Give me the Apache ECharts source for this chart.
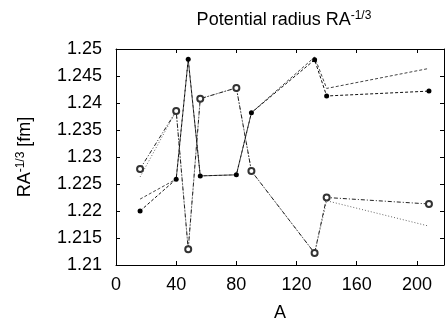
<!DOCTYPE html>
<html>
<head>
<meta charset="utf-8">
<script src="https://cdn.jsdelivr.net/npm/echarts@6/dist/echarts.min.js"></script>
<style>
  html, body { margin: 0; padding: 0; background: #fff; }
  #chart { width: 447px; height: 329px; }
</style>
</head>
<body>
<div id="chart"></div>
<script>
// mass numbers A
const massA = [16, 40, 48, 56, 80, 90, 132, 140, 208]
// filled dots
const filledR = [1.2200, 1.2259, 1.2481, 1.2265, 1.2267, 1.2382, 1.2480, 1.2413, 1.2422]
// open circles
const openR = [1.2278, 1.2385, 1.2129, 1.2408, 1.2428, 1.2274, 1.2122, 1.2225, 1.2213]
// lines without marks
const lineC = [1.2222, 1.2259, 1.2480, 1.2265, 1.2267, 1.2382, 1.2485, 1.2427, 1.2464]
const lineD = [1.2263, 1.2385, 1.2129, 1.2408, 1.2428, 1.2274, 1.2122, 1.2219, 1.2172]

const xTicks = [0, 40, 80, 120, 160, 200]
const yMin = 1.21, yMax = 1.25, yStep = 0.005

const pairs = ys => massA.map((a, i) => [a, ys[i]])

const font = 'Liberation Sans, Arial, sans-serif'

const chart = echarts.init(document.getElementById('chart'), null, { renderer: 'canvas' })

const baseX = {
  type: 'value', min: 0, max: 218, interval: 40,
  axisLine: { show: true, onZero: false, lineStyle: { color: '#000', width: 1 } },
  axisTick: { show: true, inside: true, length: 4, lineStyle: { color: '#000' } },
  splitLine: { show: false },
}
const baseY = {
  type: 'value', min: yMin, max: yMax, interval: yStep,
  axisLine: { show: true, onZero: false, lineStyle: { color: '#000', width: 1 } },
  axisTick: { show: true, inside: true, length: 4, lineStyle: { color: '#000' } },
  splitLine: { show: false },
}

const option = {
  animation: false,
  backgroundColor: '#fff',
  textStyle: { fontFamily: font },
  title: {
    text: '{a|Potential radius RA}{s|-1/3}',
    left: 279, top: 5, textAlign: 'center',
    textStyle: {
      rich: {
        a: { fontFamily: font, fontSize: 18, color: '#000', fontWeight: 'normal' },
        s: { fontFamily: font, fontSize: 12, color: '#000', fontWeight: 'normal', verticalAlign: 'top', padding: [0, 0, 9, 0] },
      },
    },
  },
  grid: { left: 116, right: 2, top: 49, bottom: 64, containLabel: false },
  xAxis: [
    {
      ...baseX, position: 'bottom',
      name: 'A', nameLocation: 'middle', nameGap: 39,
      nameTextStyle: { fontFamily: font, fontSize: 18, color: '#000' },
      axisLabel: {
        show: true, margin: 11, fontFamily: font, fontSize: 18, color: '#000',
        formatter: v => (xTicks.includes(v) ? String(v) : ''),
      },
    },
    { ...baseX, position: 'top', axisLabel: { show: false } },
  ],
  yAxis: [
    {
      ...baseY, position: 'left',
      name: '{a|RA}{s|-1/3}{a| [fm]}', nameLocation: 'middle', nameGap: 80, nameRotate: 90,
      nameTextStyle: {
        rich: {
          a: { fontFamily: font, fontSize: 18, color: '#000' },
          s: { fontFamily: font, fontSize: 12, color: '#000', verticalAlign: 'top', padding: [0, 0, 9, 0] },
        },
      },
      axisLabel: {
        show: true, margin: 14, fontFamily: font, fontSize: 18, color: '#000',
        formatter: v => (Math.round(v * 1000) / 1000).toString(),
      },
    },
    { ...baseY, position: 'right', axisLabel: { show: false } },
  ],
  series: [
    {
      type: 'line', name: 'lineD', data: pairs(lineD), showSymbol: false, symbol: 'none',
      lineStyle: { color: '#666', width: 1, type: [1, 2] }, z: 1,
    },
    {
      type: 'line', name: 'lineC', data: pairs(lineC), showSymbol: false, symbol: 'none',
      lineStyle: { color: '#444', width: 1, type: [3, 2] }, z: 1,
    },
    {
      type: 'line', name: 'open', data: pairs(openR),
      symbol: 'emptyCircle', symbolSize: 6, showAllSymbol: true,
      itemStyle: { color: '#333', borderWidth: 1 },
      lineStyle: { color: '#222', width: 1, type: [4, 2, 1, 2] }, z: 3,
    },
    {
      type: 'line', name: 'filled', data: pairs(filledR),
      symbol: 'circle', symbolSize: 5, showAllSymbol: true,
      itemStyle: { color: '#000' },
      lineStyle: { color: '#111', width: 1, type: [3, 2] }, z: 4,
    },
  ],
}

chart.setOption(option)
</script>
</body>
</html>
